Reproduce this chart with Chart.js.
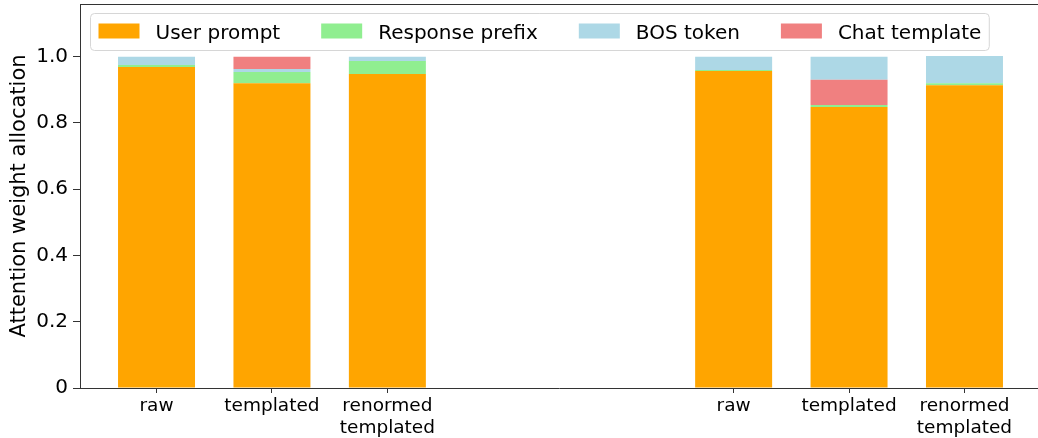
<!DOCTYPE html>
<html>
<head>
<meta charset="utf-8">
<script src="https://cdn.jsdelivr.net/npm/chart.js@4"></script>
<style>
  html, body { margin: 0; padding: 0; background: #fff; }
  #wrap { width: 1038px; height: 438px; }
</style>
</head>
<body>
<div id="wrap"><canvas id="chart" width="1038" height="438"></canvas></div>
<script>
// Bar positions on the x axis: two groups of three with a gap between them
const positions = [0, 1, 2, 5, 6, 7];
const categories = ['raw', 'templated', ['renormed', 'templated'],
                    'raw', 'templated', ['renormed', 'templated']];

// Share of attention per segment
const userPrompt     = [0.969, 0.920, 0.948, 0.957, 0.848, 0.914];
const responsePrefix = [0.006, 0.034, 0.039, 0.003, 0.006, 0.006];
const bosToken       = [0.025, 0.009, 0.013, 0.040, 0.070, 0.082];
const chatTemplate   = [0.000, 0.037, 0.000, 0.000, 0.076, 0.000];
// left group stacks BOS under the chat template, right group puts it on top
const bosOnTop       = [false, false, false, true, true, true];

const yTicks = [0, 0.2, 0.4, 0.6, 0.8, 1.0];

const colors = {
    user: '#FFA500',      // orange
    response: '#90EE90',  // lightgreen
    bos: '#ADD8E6',       // lightblue
    chat: '#F08080'       // lightcoral
};

Chart.defaults.font.family = '"DejaVu Sans", sans-serif';
Chart.defaults.color = '#000';

// Build {x, y} points, optionally keeping only some bars
function points(values, keep) {
    return positions
        .map((x, i) => ({ x: x, y: values[i] }))
        .filter((p, i) => keep ? keep(i) : true);
}

const datasets = [
    { label: 'User prompt', data: points(userPrompt), backgroundColor: colors.user },
    { label: 'Response prefix', data: points(responsePrefix), backgroundColor: colors.response },
    { label: 'BOS token', data: points(bosToken, i => !bosOnTop[i]), backgroundColor: colors.bos },
    { label: 'Chat template', data: points(chatTemplate), backgroundColor: colors.chat },
    { label: 'BOS token', data: points(bosToken, i => bosOnTop[i]), backgroundColor: colors.bos, hideInLegend: true }
];

// Top spine + matplotlib-style legend box inside the plot
const frameAndLegend = {
    id: 'frameAndLegend',
    afterDraw(chart) {
        const { ctx, chartArea } = chart;
        ctx.save();

        ctx.strokeStyle = '#333';
        ctx.lineWidth = 1;
        ctx.beginPath();
        ctx.moveTo(chartArea.left, chartArea.top + 0.5);
        ctx.lineTo(chartArea.right, chartArea.top + 0.5);
        ctx.stroke();

        const items = chart.data.datasets.filter(d => !d.hideInLegend);
        ctx.font = '20px "DejaVu Sans"';
        const pad = 8, patchW = 41, patchH = 15, textGap = 16, itemGap = 41, boxH = 37;
        let boxW = pad * 2;
        items.forEach((d, i) => {
            boxW += patchW + textGap + ctx.measureText(d.label).width + (i ? itemGap : 0);
        });
        const x0 = chartArea.left + 10.5, y0 = chartArea.top + 9.5, r = 4;

        ctx.beginPath();
        ctx.moveTo(x0 + r, y0);
        ctx.lineTo(x0 + boxW - r, y0);
        ctx.arcTo(x0 + boxW, y0, x0 + boxW, y0 + r, r);
        ctx.lineTo(x0 + boxW, y0 + boxH - r);
        ctx.arcTo(x0 + boxW, y0 + boxH, x0 + boxW - r, y0 + boxH, r);
        ctx.lineTo(x0 + r, y0 + boxH);
        ctx.arcTo(x0, y0 + boxH, x0, y0 + boxH - r, r);
        ctx.lineTo(x0, y0 + r);
        ctx.arcTo(x0, y0, x0 + r, y0, r);
        ctx.closePath();
        ctx.fillStyle = 'rgba(255,255,255,0.8)';
        ctx.fill();
        ctx.strokeStyle = '#d6d6d6';
        ctx.stroke();

        let x = x0 + pad;
        ctx.textBaseline = 'alphabetic';
        items.forEach(d => {
            ctx.fillStyle = d.backgroundColor;
            ctx.fillRect(x, y0 + 10, patchW, patchH);
            ctx.fillStyle = '#000';
            ctx.fillText(d.label, x + patchW + textGap, y0 + 25);
            x += patchW + textGap + ctx.measureText(d.label).width + itemGap;
        });
        ctx.restore();
    }
};

new Chart(document.getElementById('chart').getContext('2d'), {
    type: 'bar',
    data: { datasets: datasets },
    options: {
        responsive: false,
        animation: false,
        layout: { padding: { top: 4, left: 0, right: 0, bottom: 0 } },
        datasets: { bar: { barPercentage: 0.667, categoryPercentage: 1.0 } },
        plugins: {
            legend: { display: false },
            tooltip: { enabled: false }
        },
        scales: {
            x: {
                type: 'linear',
                stacked: true,
                offset: false,
                min: -0.663,
                max: 7.637,
                afterBuildTicks: (scale) => { scale.ticks = positions.map(v => ({ value: v })); },
                afterFit: (scale) => {
                    scale.height = 50;
                    scale.paddingLeft = 0;
                    scale.paddingRight = 0;
                },
                ticks: {
                    callback: (v) => categories[positions.indexOf(v)],
                    font: { size: 18.5, lineHeight: 1.15 },
                    color: '#000',
                    padding: 3,
                    maxRotation: 0,
                    autoSkip: false
                },
                grid: { offset: false, drawOnChartArea: false, tickLength: 5, tickColor: '#333' },
                border: { color: '#333' }
            },
            y: {
                stacked: true,
                min: 0,
                max: 1.159,
                afterBuildTicks: (scale) => { scale.ticks = yTicks.map(v => ({ value: v })); },
                afterFit: (scale) => {
                    scale.width = 80;
                    scale.paddingTop = 0;
                    scale.paddingBottom = 0;
                },
                ticks: {
                    callback: (v) => v === 0 ? '0' : v.toFixed(1),
                    font: { size: 20 },
                    color: '#000',
                    padding: 5
                },
                grid: { drawOnChartArea: false, tickLength: 7, tickColor: '#333' },
                border: { color: '#333' },
                title: {
                    display: true,
                    text: 'Attention weight allocation',
                    font: { size: 21 },
                    color: '#000',
                    padding: { top: 7, bottom: 0 }
                }
            }
        }
    },
    plugins: [frameAndLegend]
});
</script>
</body>
</html>
